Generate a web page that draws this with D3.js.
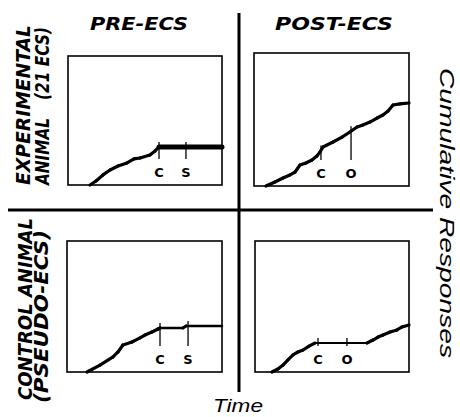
<!DOCTYPE html>
<html>
<head>
<meta charset="utf-8">
<script src="https://cdn.jsdelivr.net/npm/d3@7"></script>
<style>
  body { margin: 0; background: #fff; }
  svg { display: block; }
</style>
</head>
<body>
<div id="chart"></div>
<script>
// column / row headings and axis names
const colTitles = ["PRE-ECS", "POST-ECS"];
const rowTitles = [["EXPERIMENTAL", "ANIMAL", "(21 ECS)"], ["CONTROL ANIMAL", "(PSEUDO-ECS)"]];
const xName = "Time";
const yName = "Cumulative Responses";

// cumulative records, [time, responses] in percent of the record frame
const expPre = [[14.3, 0], [18.2, 3.1], [22.7, 7.8], [27.3, 11.6], [32.5, 14.7], [38.3, 17.1],
  [42.9, 20.2], [46.8, 20.9], [53.2, 23.3], [56.5, 26.4], [59.1, 29.5], [100, 29.5]];
const expPost = [[7.7, 0], [13.5, 3.0], [18.7, 6.0], [23.2, 8.3], [26.5, 10.5], [29.7, 15.8],
  [33.5, 17.3], [37.4, 19.5], [40.6, 22.6], [42.6, 25.6], [44.5, 29.3], [51.0, 33.1],
  [56.8, 36.8], [61.9, 40.6], [66.5, 44.4], [70.3, 45.9], [74.8, 48.1], [79.4, 51.1],
  [83.2, 53.4], [86.5, 56.4], [89.7, 60.9], [94.2, 61.7], [100, 62.4]];
const ctlPre = [[12.9, 0], [21.3, 5.3], [29.7, 11.5], [32.9, 15.3], [36.1, 20.6], [41.9, 22.9],
  [47.1, 26.0], [50.3, 28.2], [54.8, 30.5], [58.7, 32.8], [60.0, 33.6], [74.8, 33.6],
  [76.8, 35.1], [100, 35.1]];
const ctlPost = [[11.0, 0], [14.9, 2.3], [18.2, 5.3], [21.4, 9.2], [24.7, 13.0], [27.9, 15.3],
  [31.2, 16.8], [35.1, 19.8], [39.0, 22.1], [72.7, 22.1], [76.6, 24.4], [79.9, 26.7],
  [83.1, 28.2], [87.7, 30.5], [92.2, 32.1], [95.5, 34.4], [100, 35.9]];

// event marks on each record (time) and their letters
const expPreMarks = [59.1, 76.6];
const expPostMarks = [43.2, 62.6];
const ctlPreMarks = [60.0, 78.1];
const ctlPostMarks = [40.9, 59.7];
const preMarkLabels = ["C", "S"];
const postMarkLabels = ["C", "O"];

const W = 460, H = 417;
const svg = d3.select("#chart").append("svg")
  .attr("width", W)
  .attr("height", H);

const panels = [
  { x0: 68, x1: 222, y0: 56, y1: 185, data: expPre, marks: expPreMarks, labels: preMarkLabels, hold: 5 },
  { x0: 254, x1: 409, y0: 53, y1: 186, data: expPost, marks: expPostMarks, labels: postMarkLabels, hold: 3 },
  { x0: 67, x1: 222, y0: 241, y1: 372, data: ctlPre, marks: ctlPreMarks, labels: preMarkLabels, hold: 2.5 },
  { x0: 255, x1: 409, y0: 241, y1: 372, data: ctlPost, marks: ctlPostMarks, labels: postMarkLabels, hold: 2 }
];

panels.forEach(p => {
  const x = d3.scaleLinear().domain([0, 100]).range([p.x0, p.x1]);
  const y = d3.scaleLinear().domain([0, 100]).range([p.y1, p.y0]);
  const g = svg.append("g");

  g.append("rect")
    .attr("x", x(0)).attr("y", y(100))
    .attr("width", x(100) - x(0)).attr("height", y(0) - y(100))
    .attr("fill", "none").attr("stroke", "#000").attr("stroke-width", 1.6);

  // each step of the record; flat stretches use the pen weight of that record
  const segs = d3.pairs(p.data);
  g.selectAll("line.seg")
    .data(segs)
    .join("line")
    .attr("class", "seg")
    .attr("x1", d => x(d[0][0])).attr("y1", d => y(d[0][1]))
    .attr("x2", d => x(d[1][0])).attr("y2", d => y(d[1][1]))
    .attr("stroke", "#000")
    .attr("stroke-linecap", "round")
    .attr("stroke-width", d => d[0][1] === d[1][1] ? p.hold : 3.2);

  const bis = d3.bisector(d => d[0]).left;
  const valueAt = t => {
    const i = Math.max(1, Math.min(p.data.length - 1, bis(p.data, t)));
    const a = p.data[i - 1], b = p.data[i];
    return a[1] + (b[1] - a[1]) * (t - a[0]) / (b[0] - a[0]);
  };

  p.marks.forEach((t, i) => {
    g.append("line")
      .attr("x1", x(t)).attr("x2", x(t))
      .attr("y1", y(valueAt(t)) - 5)
      .attr("y2", y(0) - 26)
      .attr("stroke", "#000").attr("stroke-width", 1.3);
    g.append("text")
      .attr("x", x(t)).attr("y", y(0) - 8)
      .attr("text-anchor", "middle")
      .style("font-family", "DejaVu Sans, sans-serif")
      .style("font-weight", "bold")
      .style("font-size", "13px")
      .text(p.labels[i]);
  });
});

// quadrant dividers
svg.append("line").attr("x1", 8).attr("x2", 433).attr("y1", 210).attr("y2", 210)
  .attr("stroke", "#000").attr("stroke-width", 3);
svg.append("line").attr("x1", 239).attr("x2", 239).attr("y1", 13).attr("y2", 392)
  .attr("stroke", "#000").attr("stroke-width", 3);

const bold = sel => sel
  .style("font-family", "DejaVu Sans, sans-serif")
  .style("font-weight", "bold")
  .style("font-style", "italic")
  .attr("lengthAdjust", "spacingAndGlyphs")
  .attr("fill", "#000");

bold(svg.append("text").attr("x", 90).attr("y", 30).style("font-size", "17px")
  .attr("textLength", 98).text(colTitles[0]));
bold(svg.append("text").attr("x", 275).attr("y", 30).style("font-size", "17px")
  .attr("textLength", 118).text(colTitles[1]));

const side = (tx, ty, anchor, len, txt) => bold(svg.append("text")
  .attr("transform", `translate(${tx},${ty}) rotate(-90)`)
  .attr("text-anchor", anchor)
  .style("font-size", "19px")
  .attr("textLength", len)
  .text(txt));

side(30, 185, "start", 160, rowTitles[0][0]);
side(49, 185, "start", 67, rowTitles[0][1]);
side(49, 27, "end", 73, rowTitles[0][2]);
side(32, 400, "start", 182, rowTitles[1][0]);
side(48, 403, "start", 173, rowTitles[1][1]);

svg.append("text")
  .attr("transform", "translate(440,68) rotate(90)")
  .style("font-family", "Liberation Sans, Arial, sans-serif")
  .style("font-style", "italic")
  .style("font-size", "21px")
  .attr("textLength", 290)
  .attr("lengthAdjust", "spacingAndGlyphs")
  .text(yName);

svg.append("text")
  .attr("x", 213).attr("y", 412)
  .style("font-family", "Liberation Sans, Arial, sans-serif")
  .style("font-style", "italic")
  .style("font-size", "19px")
  .attr("textLength", 50)
  .attr("lengthAdjust", "spacingAndGlyphs")
  .text(xName);
</script>
</body>
</html>
